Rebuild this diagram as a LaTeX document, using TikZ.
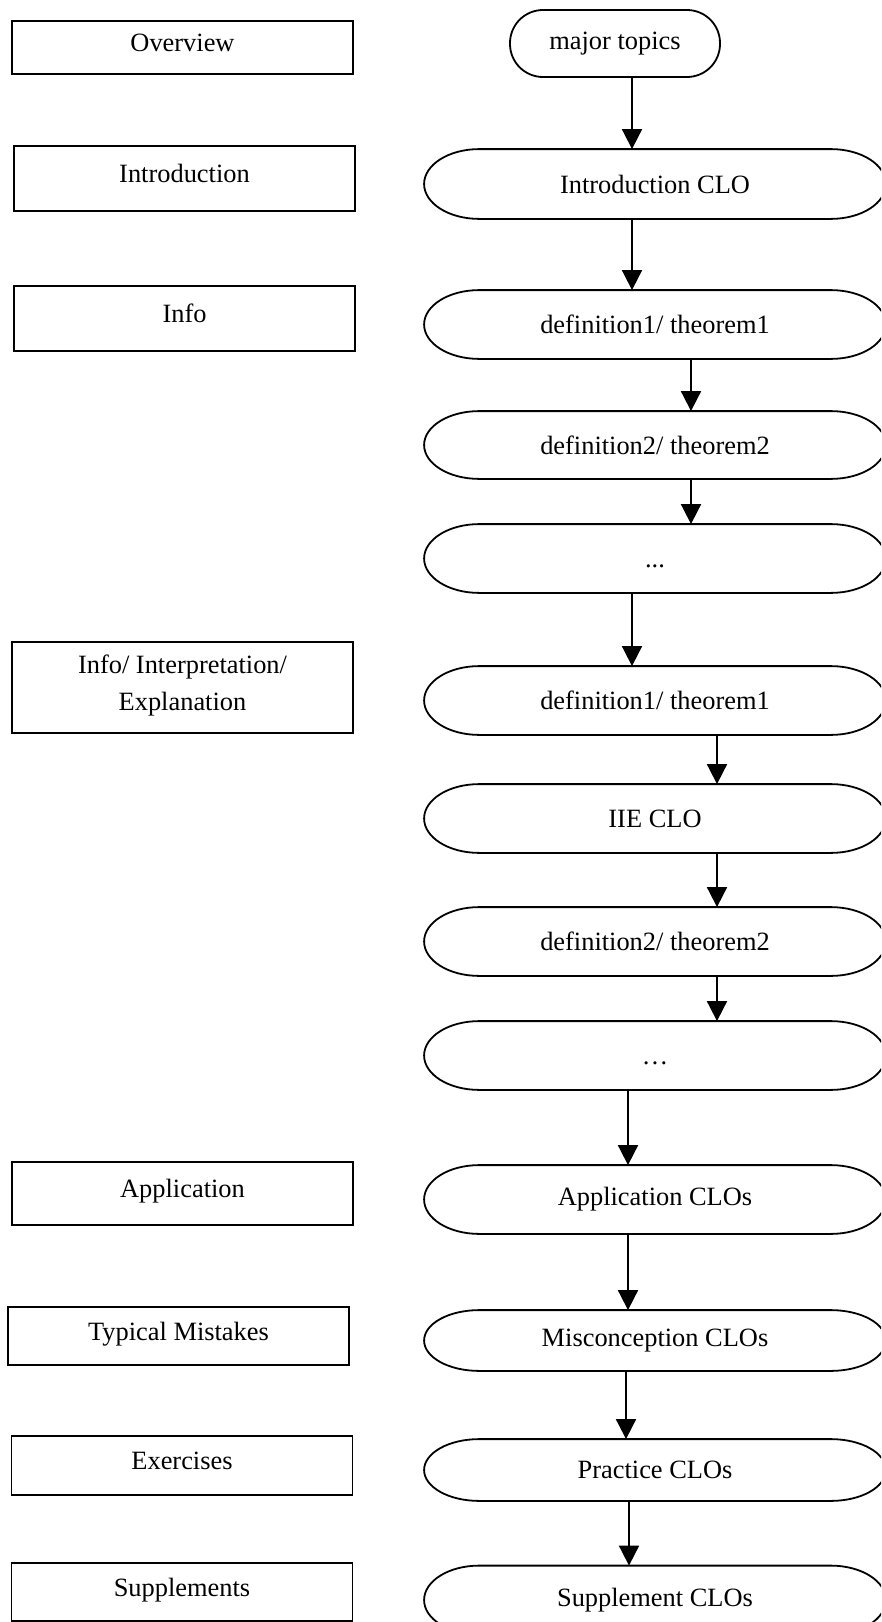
\documentclass[tikz,border=0pt]{standalone}
\usepackage{fontspec}
\setmainfont{Liberation Serif}
\usetikzlibrary{arrows.meta}
\usetikzlibrary{calc}

\tikzstyle{base}=[x=1pt, y=1pt, line width=1.8pt, font=\fontsize{26.4}{37}\selectfont]
\tikzstyle{section}=[draw, rectangle, minimum width=341pt, inner sep=0pt, text depth=10pt]
\tikzstyle{clo}=[rectangle, minimum width=460pt, minimum height=67pt, inner sep=0pt]
\tikzstyle{gap}=[clo, text height=18pt, text depth=0pt]
\tikzstyle{flow}=[-{Triangle[width=20pt,length=20pt]}]

% outline with elliptical ends round a clo node
\newcommand{\capsule}[1]{%
  \draw let \p1=(#1.north west), \p2=(#1.south east), \n1={0.5*(\y1-\y2)} in
    ({\x1+55pt},{\y1}) -- ({\x2-55pt},{\y1})
    arc[start angle=90, end angle=-90, x radius=55pt, y radius=\n1]
    -- ({\x1+55pt},{\y2})
    arc[start angle=270, end angle=90, x radius=55pt, y radius=\n1] -- cycle;}

\begin{document}
\begin{tikzpicture}[base]
    \useasboundingbox (0,0) rectangle (881,-1622);
    \clip (0,0) rectangle (881,-1622);

    % left column
    \node [section, minimum height=53pt] (overview) at (182.5,-47.5) {Overview};
    \node [section, minimum height=65pt] (introduction) at (184.5,-178.5) {Introduction};
    \node [section, minimum height=65pt] (info) at (184.5,-318.5) {Info};
    \node [section, minimum height=91pt, align=center] (explain) at (182.5,-687.5) {Info/ Interpretation/\\Explanation};
    \node [section, minimum height=63pt] (application) at (182.5,-1193.5) {Application};
    \node [section, minimum height=58pt] (mistakes) at (178.5,-1336) {Typical Mistakes};
    \node [section, minimum height=59pt] (exercises) at (182,-1465.5) {Exercises};
    \node [section, minimum height=58pt] (supplements) at (182,-1592) {Supplements};

    % right column
    \node [draw, rectangle, rounded corners=33pt, minimum width=210pt, minimum height=67pt] (major) at (615,-43.5) {major topics};
    \node [clo, minimum height=68pt] (introclo) at (655,-184) {Introduction CLO};
    \node [clo] (defa) at (655,-324.5) {definition1/ theorem1};
    \node [clo, minimum height=66pt] (defb) at (655,-445) {definition2/ theorem2};
    \node [gap] (dotsa) at (655,-558.5) {...};
    \node [clo] (defc) at (655,-700.5) {definition1/ theorem1};
    \node [clo] (iieclo) at (655,-818.5) {IIE CLO};
    \node [clo] (defd) at (655,-941.5) {definition2/ theorem2};
    \node [gap] (dotsb) at (655,-1055.5) {…};
    \node [clo] (applclo) at (655,-1199.5) {Application CLOs};
    \node [clo, minimum height=59pt] (miscclo) at (655,-1340.5) {Misconception CLOs};
    \node [clo, minimum height=60pt] (pracclo) at (655,-1470) {Practice CLOs};
    \node [clo] (suppclo) at (655,-1600) {Supplement CLOs};

    \foreach \c in {introclo,defa,defb,dotsa,defc,iieclo,defd,dotsb,applclo,miscclo,pracclo,suppclo}
        \capsule{\c};

    % arrows
    \draw [flow] ([xshift=17pt]major.south) -- ([xshift=-23pt]introclo.north);
    \draw [flow] ([xshift=-23pt]introclo.south) -- ([xshift=-23pt]defa.north);
    \draw [flow] ([xshift=36pt]defa.south) -- ([xshift=36pt]defb.north);
    \draw [flow] ([xshift=36pt]defb.south) -- ([xshift=36pt]dotsa.north);
    \draw [flow] ([xshift=-23pt]dotsa.south) -- ([xshift=-23pt]defc.north);
    \draw [flow] ([xshift=62pt]defc.south) -- ([xshift=62pt]iieclo.north);
    \draw [flow] ([xshift=62pt]iieclo.south) -- ([xshift=62pt]defd.north);
    \draw [flow] ([xshift=62pt]defd.south) -- ([xshift=62pt]dotsb.north);
    \draw [flow] ([xshift=-27pt]dotsb.south) -- ([xshift=-27pt]applclo.north);
    \draw [flow] ([xshift=-27pt]applclo.south) -- ([xshift=-27pt]miscclo.north);
    \draw [flow] ([xshift=-29pt]miscclo.south) -- ([xshift=-29pt]pracclo.north);
    \draw [flow] ([xshift=-26pt]pracclo.south) -- ([xshift=-26pt]suppclo.north);
\end{tikzpicture}
\end{document}
